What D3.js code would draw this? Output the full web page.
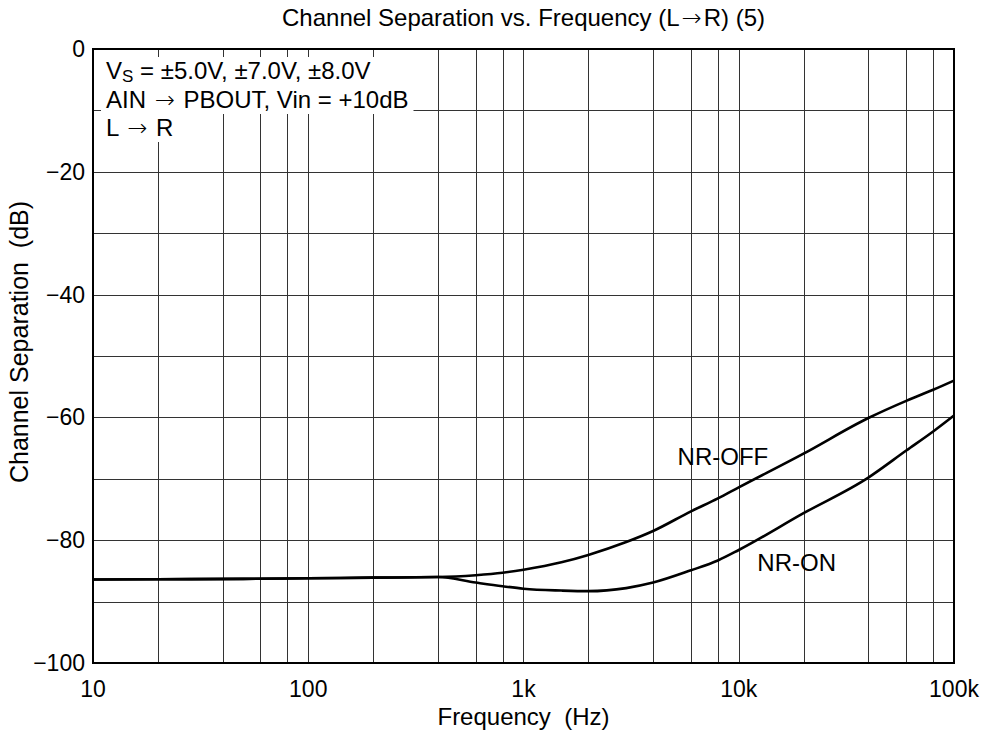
<!DOCTYPE html>
<html>
<head>
<meta charset="utf-8">
<script src="https://cdn.jsdelivr.net/npm/d3@7"></script>
<style>
  body { margin: 0; background: #fff; }
  svg { font-family: "Liberation Sans", Arial, sans-serif; }
  text { white-space: pre; }
  .arrow { font-family: "DejaVu Sans", sans-serif; font-weight: 200; }
</style>
</head>
<body>
<svg id="chart" width="990" height="736"></svg>
<script>
// data
const freqs = [10, 20, 50, 100, 200, 400, 600, 800, 1000, 1500, 2000, 3000, 4000, 6000, 8000, 10000, 20000, 40000, 60000, 80000, 100000];
const nrOff = [-86.4, -86.35, -86.3, -86.2, -86.1, -86.0, -85.7, -85.3, -84.8, -83.6, -82.4, -80.3, -78.5, -75.3, -73.2, -71.4, -65.9, -60.1, -57.3, -55.5, -54.0];
const nrOn = [-86.4, -86.35, -86.3, -86.2, -86.1, -86.0, -86.9, -87.5, -87.9, -88.2, -88.3, -87.8, -86.9, -84.9, -83.3, -81.6, -75.6, -69.8, -65.4, -62.3, -59.7];
const xTicks = [10, 100, 1000, 10000, 100000];
const xTickLabels = ["10", "100", "1k", "10k", "100k"];
const yTicks = [0, -20, -40, -60, -80, -100];
const yMinor = [-10, -30, -50, -70, -90];
const xMinorMult = [2, 4, 6, 8];

const svg = d3.select('#chart');
const margin = {left: 93, top: 49, right: 36, bottom: 73};
const W = 990 - margin.left - margin.right;
const H = 736 - margin.top - margin.bottom;
const FS = 24;

const x = d3.scaleLog().domain([10, 100000]).range([0, W]);
const y = d3.scaleLinear().domain([-100, 0]).range([H, 0]);

const g = svg.append('g').attr('transform', `translate(${margin.left},${margin.top})`);

// writes text where "->" becomes a real arrow glyph
function arrowText(sel, str) {
    str.split('->').forEach((part, i) => {
        if (i > 0) sel.append('tspan').attr('class', 'arrow').attr('dx', 2).text('\u2192');
        sel.append('tspan').attr('dx', i > 0 ? 2 : 0).text(part);
    });
    return sel;
}

// grid
let vGrid = [];
xTicks.forEach(t => { if (t < 100000) xMinorMult.forEach(m => vGrid.push(t * m)); });
vGrid = vGrid.concat(xTicks.slice(1, -1));

g.selectAll('line.vgrid')
    .data(vGrid)
    .enter()
    .append('line')
    .attr('x1', d => Math.round(x(d)) + 0.5)
    .attr('x2', d => Math.round(x(d)) + 0.5)
    .attr('y1', 0)
    .attr('y2', H)
    .attr('stroke', '#333')
    .attr('stroke-width', 1);

g.selectAll('line.hgrid')
    .data(yMinor.concat(yTicks.slice(1, -1)))
    .enter()
    .append('line')
    .attr('x1', 0)
    .attr('x2', W)
    .attr('y1', d => Math.round(y(d)) + 0.5)
    .attr('y2', d => Math.round(y(d)) + 0.5)
    .attr('stroke', '#333')
    .attr('stroke-width', 1);

// annotation text with white backing
const noteG = g.append('g');
const t1 = noteG.append('text')
    .attr('x', 13).attr('y', 30)
    .attr('font-size', FS);
t1.append('tspan').text('V');
t1.append('tspan').attr('font-size', 17).attr('dy', 3).text('S');
t1.append('tspan').attr('dy', -3).text(' = \u00b15.0V, \u00b17.0V, \u00b18.0V');
arrowText(noteG.append('text').attr('x', 13).attr('y', 59).attr('font-size', FS), 'AIN -> PBOUT, Vin = +10dB');
arrowText(noteG.append('text').attr('x', 13).attr('y', 87).attr('font-size', FS), 'L -> R');
noteG.selectAll('text').each(function () {
    const b = this.getBBox();
    noteG.insert('rect', 'text')
        .attr('x', b.x - 5).attr('y', b.y)
        .attr('width', b.width + 10).attr('height', b.height)
        .attr('fill', '#fff');
});

// curves
const line = d3.line()
    .x((d, i) => x(freqs[i]))
    .y(d => y(d))
    .curve(d3.curveMonotoneX);

[nrOff, nrOn].forEach(s => {
    g.append('path')
        .attr('d', line(s))
        .attr('fill', 'none')
        .attr('stroke', '#000')
        .attr('stroke-width', 2.6);
});

g.append('text').attr('x', x(5200)).attr('y', y(-67.7)).attr('font-size', FS).text('NR-OFF');
g.append('text').attr('x', x(12200)).attr('y', y(-85.0)).attr('font-size', FS).text('NR-ON');

// frame
g.append('rect')
    .attr('x', 0).attr('y', 0)
    .attr('width', W).attr('height', H)
    .attr('fill', 'none')
    .attr('stroke', '#000')
    .attr('stroke-width', 2);

// tick labels
g.selectAll('text.xt')
    .data(xTicks)
    .enter()
    .append('text')
    .attr('x', d => x(d))
    .attr('y', H + 34)
    .attr('text-anchor', 'middle')
    .attr('font-size', 23)
    .text((d, i) => xTickLabels[i]);

g.selectAll('text.yt')
    .data(yTicks)
    .enter()
    .append('text')
    .attr('x', -8)
    .attr('y', d => y(d) + 8)
    .attr('text-anchor', 'end')
    .attr('font-size', 23)
    .text(d => d < 0 ? '\u2212' + Math.abs(d) : d);

// titles
arrowText(svg.append('text')
    .attr('x', margin.left + W / 2).attr('y', 26)
    .attr('text-anchor', 'middle').attr('font-size', FS),
    'Channel Separation vs. Frequency (L->R) (5)');

svg.append('text')
    .attr('x', margin.left + W / 2).attr('y', 725)
    .attr('text-anchor', 'middle').attr('font-size', FS)
    .text('Frequency  (Hz)');

svg.append('text')
    .attr('transform', 'translate(28,342) rotate(-90)')
    .attr('text-anchor', 'middle').attr('font-size', 25)
    .text('Channel Separation  (dB)');
</script>
</body>
</html>
